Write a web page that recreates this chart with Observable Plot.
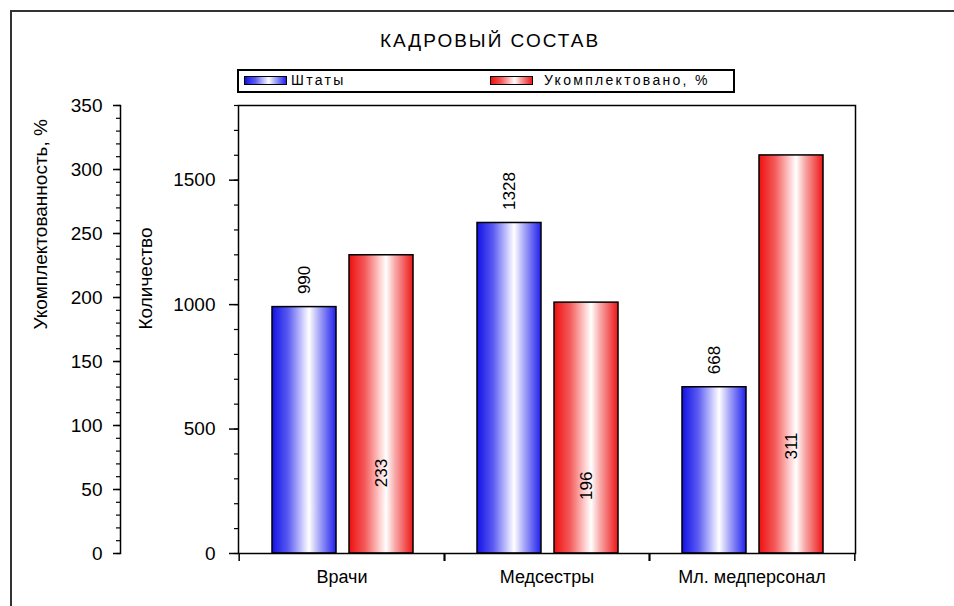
<!DOCTYPE html>
<html><head><meta charset="utf-8">
<script src="https://cdn.jsdelivr.net/npm/d3@7"></script>
<script src="https://cdn.jsdelivr.net/npm/@observablehq/plot@0.6"></script>
<style>
body{margin:0;background:#fff;font-family:"Liberation Sans",Arial,sans-serif;color:#000;}
#wrap{position:relative;width:954px;height:606px;overflow:hidden;}
#border{position:absolute;left:10px;top:10px;width:960px;height:620px;border-left:2px solid #333;border-top:2px solid #333;pointer-events:none;}
#header{position:relative;height:95px;}
#title{position:absolute;left:0;width:980px;top:30px;text-align:center;font-size:19px;letter-spacing:2px;}
#legend{position:absolute;left:237px;top:69px;width:494px;height:20px;border:2px solid #000;}
.sw{position:absolute;top:5px;width:41px;height:7px;border:1.5px solid #000;}
.lt{position:absolute;top:1px;font-size:14px;letter-spacing:2.3px;white-space:nowrap;}
#chart{position:absolute;left:0;top:95px;}
</style></head>
<body>
<div id="wrap">
  <div id="header">
    <div id="title"></div>
    <div id="legend"></div>
  </div>
  <div id="chart"></div>
  <div id="border"></div>
</div>
<script>
// ---- data ----
const titleText = "КАДРОВЫЙ СОСТАВ";
const categories = ["Врачи", "Медсестры", "Мл. медперсонал"];
const seriesNames = ["Штаты", "Укомплектовано, %"];
const staff = [990, 1328, 668];          // Количество (inner axis)
const staffedPct = [233, 196, 311];      // Укомплектованность, % (outer axis)
const countTicks = [0, 500, 1000, 1500];
const pctTicks = [0, 50, 100, 150, 200, 250, 300, 350];
const countMax = 1800;
const pctMax = 350;
const pctAxisTitle = "Укомплектованность, %";
const countAxisTitle = "Количество";

// ---- build ----
const K = countMax / pctMax;
const rows = categories.map((c, i) => ({cat: c, staff: staff[i], pct: staffedPct[i]}));

document.getElementById("title").textContent = titleText;
const blueGrad = "linear-gradient(90deg,#1212e6 0%,#5a5af2 25%,#d8d8ff 50%,#ffffff 58%,#b0b0f8 72%,#2020ee 100%)";
const redGrad = "linear-gradient(90deg,#ee1010 0%,#f45a5a 25%,#ffd8d8 50%,#ffffff 58%,#f8a8a8 72%,#ee1616 100%)";
document.getElementById("legend").innerHTML =
  `<div class="sw" style="left:5px;background:${blueGrad}"></div><div class="lt" style="left:52px">${seriesNames[0]}</div>` +
  `<div class="sw" style="left:251px;background:${redGrad}"></div><div class="lt" style="left:305px">${seriesNames[1]}</div>`;

const W = 954, H = 511;
const mL = 238, mR = 99, mT = 10, mB = 53;
const bw = (W - mL - mR) / categories.length;

const chart = Plot.plot({
  width: W, height: H,
  marginLeft: mL, marginRight: mR, marginTop: mT, marginBottom: mB,
  x: {domain: categories, padding: 0, axis: null, label: null},
  y: {domain: [0, countMax], axis: null, label: null},
  style: {fontFamily: '"Liberation Sans", Arial, sans-serif', fontSize: "18px", color: "#000", background: "transparent", overflow: "visible"},
  marks: [
    // bars
    Plot.barY(rows, {x: "cat", y: "staff", fill: "url(#gBlue)", stroke: "#000", strokeWidth: 1.5, insetLeft: 33, insetRight: 108}),
    Plot.barY(rows, {x: "cat", y: d => d.pct * K, fill: "url(#gRed)", stroke: "#000", strokeWidth: 1.5, insetLeft: 110, insetRight: 31}),
    // value labels
    Plot.text(rows, {x: "cat", y: "staff", text: d => String(d.staff), rotate: -90, textAnchor: "start", dx: 65.5 - bw / 2, dy: -13, fontSize: 17}),
    Plot.text(rows, {x: "cat", y: d => d.pct * K * 0.27, text: d => String(d.pct), rotate: -90, dx: 142.5 - bw / 2, fontSize: 17}),
    // plot frame
    Plot.frame({stroke: "#000", strokeWidth: 1.5}),
    // inner axis (Количество)
    Plot.axisY(countTicks, {anchor: "left", tickSize: 9, tickPadding: 14, fontSize: 19, strokeWidth: 1.5, tickFormat: d => String(d)}),
    Plot.axisY(d3.range(0, countMax + 1, 100), {anchor: "left", tickSize: 4, tickFormat: () => "", strokeWidth: 1.2}),
    // outer axis (%)
    Plot.frame({anchor: "left", dx: 120 - mL, stroke: "#000", strokeWidth: 1.5}),
    Plot.axisY(pctTicks.map(v => v * K), {anchor: "left", dx: 120 - mL, tickSize: 7, tickPadding: 11, fontSize: 19, strokeWidth: 1.5, tickFormat: d => String(Math.round(d / K))}),
    Plot.axisY(d3.range(0, pctMax + 1, 10).map(v => v * K), {anchor: "left", dx: 120 - mL, tickSize: 4, tickFormat: () => "", strokeWidth: 1.2}),
    // x axis
    Plot.axisX({anchor: "bottom", tickSize: 0, tickPadding: 17, fontSize: 18, letterSpacing: 1}),
    Plot.axisX({anchor: "bottom", tickSize: 8, dx: -bw / 2, tickFormat: () => "", strokeWidth: 1.5}),
    Plot.axisX({anchor: "bottom", tickSize: 8, dx: bw / 2, tickFormat: () => "", strokeWidth: 1.5}),
    // axis titles
    Plot.text([pctAxisTitle], {frameAnchor: "left", dx: 40 - mL, rotate: -90, fontSize: 19}),
    Plot.text([countAxisTitle], {frameAnchor: "left", dx: 145 - mL, rotate: -90, fontSize: 19})
  ]
});

const defs = d3.select(chart).insert("defs", ":first-child");
function grad(id, stops) {
  const g = defs.append("linearGradient").attr("id", id).attr("x1", "0").attr("x2", "1").attr("y1", "0").attr("y2", "0");
  stops.forEach(([o, c]) => g.append("stop").attr("offset", o).attr("stop-color", c));
}
grad("gBlue", [[0, "#1212e6"], [0.25, "#5a5af2"], [0.5, "#d8d8ff"], [0.58, "#ffffff"], [0.72, "#b0b0f8"], [1, "#2020ee"]]);
grad("gRed", [[0, "#ee1010"], [0.25, "#f45a5a"], [0.5, "#ffd8d8"], [0.58, "#ffffff"], [0.72, "#f8a8a8"], [1, "#ee1616"]]);

document.getElementById("chart").appendChild(chart);
</script>
</body></html>
